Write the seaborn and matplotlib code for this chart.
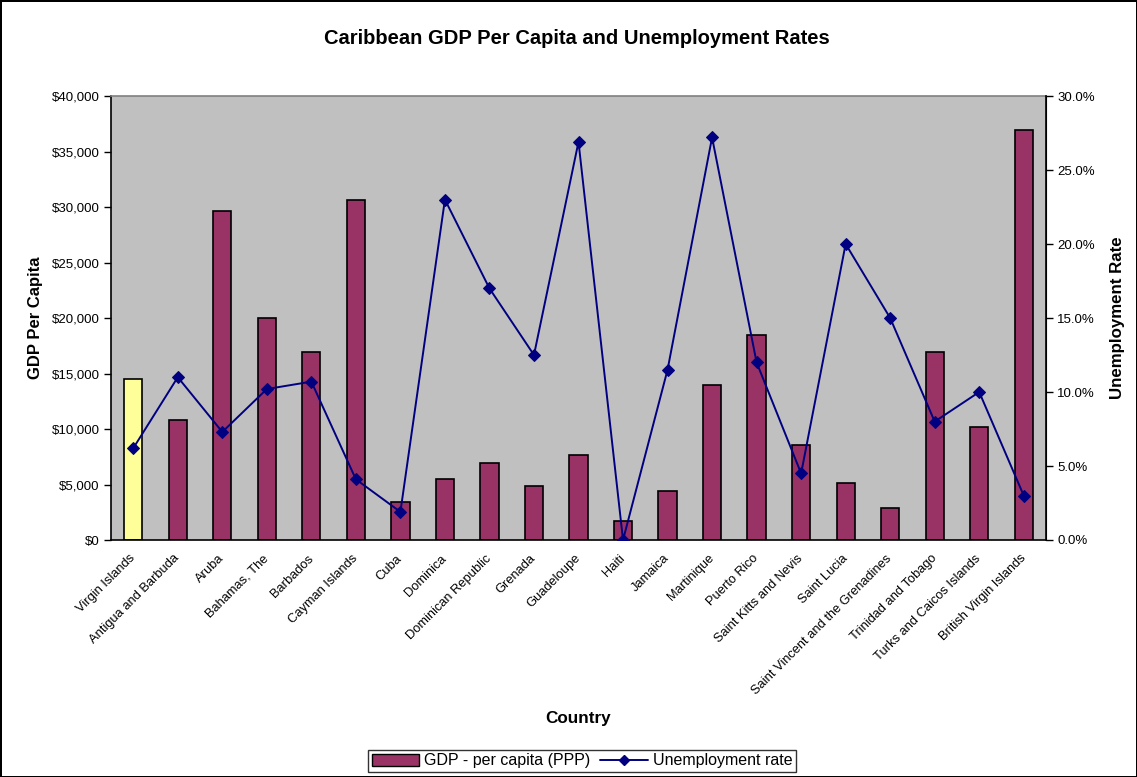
import numpy as np
import pandas as pd
import matplotlib
matplotlib.use("Agg")
import matplotlib.pyplot as plt
import seaborn as sns
from matplotlib.patches import Patch
from matplotlib.lines import Line2D
from matplotlib.ticker import FuncFormatter, MultipleLocator

countries = ["Virgin Islands", "Antigua and Barbuda", "Aruba", "Bahamas, The", "Barbados",
             "Cayman Islands", "Cuba", "Dominica", "Dominican Republic", "Grenada",
             "Guadeloupe", "Haiti", "Jamaica", "Martinique", "Puerto Rico",
             "Saint Kitts and Nevis", "Saint Lucia", "Saint Vincent and the Grenadines",
             "Trinidad and Tobago", "Turks and Caicos Islands", "British Virgin Islands"]
gdp = [14500, 10800, 29600, 20000, 16900, 30600, 3400, 5500, 6900, 4900,
       7700, 1700, 4400, 14000, 18500, 8600, 5100, 2900, 16900, 10200, 36900]
unemployment = [6.2, 11.0, 7.3, 10.2, 10.7, 4.1, 1.9, 23.0, 17.0, 12.5,
                26.9, 0.0, 11.5, 27.2, 12.0, 4.5, 20.0, 15.0, 8.0, 10.0, 3.0]

sns.set_style("white")
plt.rcParams['font.family'] = ['Liberation Sans', 'DejaVu Sans']
plt.rcParams['text.color'] = 'black'
plt.rcParams['axes.labelcolor'] = 'black'
plt.rcParams['xtick.color'] = 'black'
plt.rcParams['ytick.color'] = 'black'

df = pd.DataFrame({"Country": countries, "GDP": gdp, "Unemp": unemployment})
n = len(countries)

bar_color = "#993366"
colors = {c: bar_color for c in countries}
colors["Virgin Islands"] = "#FFFF99"

fig = plt.figure(figsize=(11.37, 7.77), dpi=100)
fig.patch.set_facecolor("white")
fig.patch.set_edgecolor("black")
fig.patch.set_linewidth(1.0)

ax = fig.add_axes([111/1137, 1-540/777, (1046-111)/1137, (540-96)/777])
ax.set_facecolor("#C0C0C0")
sns.barplot(data=df, x="Country", y="GDP", hue="Country", palette=colors, legend=False,
            width=0.41, edgecolor="black", linewidth=1.2, ax=ax, saturation=1)
ax.set_xlim(-0.5, n - 0.5)
ax.set_ylim(0, 40000)
ax.yaxis.set_major_locator(MultipleLocator(5000))
ax.yaxis.set_major_formatter(FuncFormatter(lambda v, p: f"${v:,.0f}"))
ax.set_xticks(range(n))
ax.set_xticklabels(countries, rotation=45, ha="right", va="center", rotation_mode="anchor", fontsize=9.3)
ax.tick_params(axis="x", which="major", length=0, pad=12)
ax.set_xticks(np.arange(-0.5, n, 1.0), minor=True)
ax.tick_params(axis="x", which="minor", length=5, width=1, color="black", direction="out")
ax.tick_params(axis="y", labelsize=9.5, length=5, width=1, color="black", direction="out", left=True, pad=3)
ax.set_xlabel("Country", fontsize=12.3, fontweight="bold", labelpad=10)
ax.set_ylabel("GDP Per Capita", fontsize=12, fontweight="bold", labelpad=6.5)
for s in ["left", "bottom"]:
    ax.spines[s].set_color("black")
    ax.spines[s].set_linewidth(1.2)
ax.spines["top"].set_color("#808080")
ax.spines["top"].set_linewidth(1.2)
ax.spines["right"].set_color("black")

ax2 = ax.twinx()
sns.lineplot(x=np.arange(n), y=unemployment, ax=ax2, color="#000080", marker="D",
             markersize=6, markeredgecolor="#000080", linewidth=1.4)
ax2.set_ylim(0, 30)
ax2.set_xlim(-0.5, n - 0.5)
ax2.yaxis.set_major_locator(MultipleLocator(5))
ax2.yaxis.set_major_formatter(FuncFormatter(lambda v, p: f"{v:.1f}%"))
ax2.tick_params(axis="y", labelsize=9.5, length=5, width=1, color="black", direction="out", right=True, pad=3)
ax2.set_ylabel("Unemployment Rate", fontsize=12.2, fontweight="bold", labelpad=11)
ax2.spines["right"].set_color("black")
ax2.spines["right"].set_linewidth(1.2)
ax2.spines["top"].set_visible(False)
ax2.spines["left"].set_visible(False)
ax2.spines["bottom"].set_visible(False)

fig.text(577/1137, 1-38/777, "Caribbean GDP Per Capita and Unemployment Rates",
         ha="center", va="center", fontsize=14.5, fontweight="bold")

handles = [Patch(facecolor=bar_color, edgecolor="black", linewidth=1.0, label="GDP - per capita (PPP)"),
           Line2D([0], [0], color="#000080", marker="D", markersize=5, linewidth=1.4, label="Unemployment rate")]
leg = fig.legend(handles=handles, loc="center", bbox_to_anchor=(582/1137, 1-761/777), ncol=2,
                 fontsize=11.5, frameon=True, fancybox=False, edgecolor="black",
                 handlelength=3.0, handletextpad=0.3, columnspacing=0.6, borderpad=0.25)
leg.get_frame().set_linewidth(1.0)

fig.savefig("out.png", dpi=100, facecolor="white", edgecolor="black")
